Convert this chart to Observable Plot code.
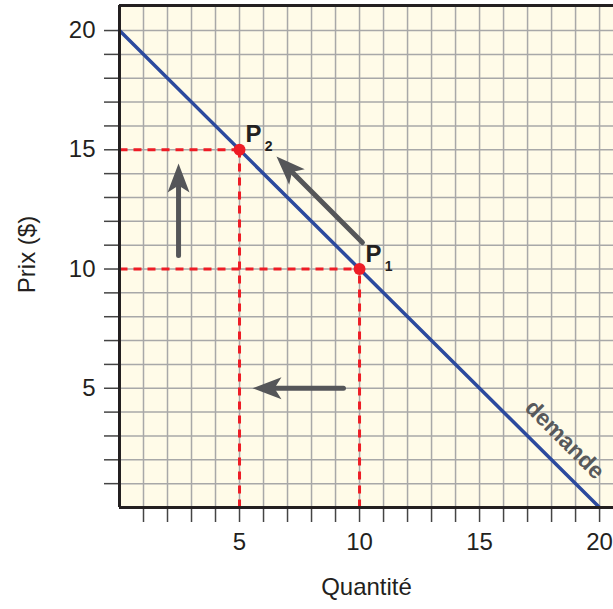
<!DOCTYPE html>
<html>
<head>
<meta charset="utf-8">
<script src="https://cdn.jsdelivr.net/npm/d3@7"></script>
<script src="https://cdn.jsdelivr.net/npm/@observablehq/plot@0.6"></script>
<style>
  html, body { margin: 0; padding: 0; background: #ffffff; }
  #chart { width: 613px; height: 609px; }
</style>
</head>
<body>
<div id="chart"></div>
<script>
// ---- data ----
const demand = [{q: 0, p: 20}, {q: 20, p: 0}];
const points = [
  {name: "P", sub: "2", q: 5, p: 15},
  {name: "P", sub: "1", q: 10, p: 10}
];
const arrows = [
  {x1: 2.46, y1: 10.57, x2: 2.46, y2: 14.42},
  {x1: 10.12, y1: 11.11, x2: 6.54, y2: 14.72},
  {x1: 9.33, y1: 5.0, x2: 5.54, y2: 5.0}
];
const gridValues = d3.range(1, 21);
const tickValues = d3.range(1, 21);
const labelledTicks = [5, 10, 15, 20];
const curveLabel = [{text: "demande", q: 18.55, p: 2.85}];

// ---- layout ----
const W = 613, H = 609;
const mL = 119, mR = 0, mT = 5, mB = 102;
const xDomain = [0, 20.58], yDomain = [0, 21.05];
const kx = (W - mL - mR) / (xDomain[1] - xDomain[0]);
const ky = (H - mT - mB) / (yDomain[1] - yDomain[0]);

const dashedH = points.map(d => ({x1: 0, x2: d.q, y: d.p}));
const dashedV = points.map(d => ({x: d.q, y1: 0, y2: d.p}));
const heads = arrows.map(a => {
  const dx = (a.x2 - a.x1) * kx, dy = -(a.y2 - a.y1) * ky;
  return {x: a.x2, y: a.y2, angle: Math.atan2(dx, -dy) * 180 / Math.PI};
});

// stealth arrowhead, tip at origin pointing up
const stealth = {
  draw(ctx) {
    ctx.moveTo(0, 0);
    ctx.lineTo(11, 29);
    ctx.lineTo(0, 22);
    ctx.lineTo(-11, 29);
    ctx.closePath();
  }
};

const font = "'Liberation Sans', Arial, Helvetica, sans-serif";
const fmt = d => labelledTicks.includes(d) ? String(d) : "";

const chart = Plot.plot({
  width: W, height: H,
  marginLeft: mL, marginRight: mR, marginTop: mT, marginBottom: mB,
  x: {domain: xDomain},
  y: {domain: yDomain},
  style: {fontFamily: font, background: "transparent", overflow: "visible"},
  marks: [
    Plot.rect([0], {x1: xDomain[0], x2: xDomain[1], y1: yDomain[0], y2: yDomain[1], fill: "#fffbe8"}),
    Plot.ruleX(gridValues, {stroke: "#a8a8a8", strokeWidth: 1.5}),
    Plot.ruleY(gridValues, {stroke: "#a8a8a8", strokeWidth: 1.5}),
    Plot.axisX(tickValues, {tickSize: 15, tickPadding: 10, tickFormat: fmt, fontSize: 24, fill: "#231f20", stroke: "#444", strokeWidth: 1.5, label: null}),
    Plot.axisY(tickValues, {tickSize: 15, tickPadding: 9, tickFormat: fmt, fontSize: 24, fill: "#231f20", stroke: "#444", strokeWidth: 1.5, label: null}),
    Plot.text(["Quantité"], {frameAnchor: "bottom", dy: 87, fontSize: 24, fill: "#231f20"}),
    Plot.text(["Prix ($)"], {frameAnchor: "left", textAnchor: "middle", dx: -92, dy: -2, rotate: -90, fontSize: 24, fill: "#231f20"}),
    Plot.link(dashedH, {x1: "x1", x2: "x2", y1: "y", y2: "y", stroke: "#ee1c25", strokeWidth: 3, strokeDasharray: "8,6"}),
    Plot.link(dashedV, {x1: "x", x2: "x", y1: "y1", y2: "y2", stroke: "#ee1c25", strokeWidth: 3, strokeDasharray: "8,6"}),
    Plot.line(demand, {x: "q", y: "p", stroke: "#2c4a9e", strokeWidth: 3.5}),
    Plot.arrow(arrows, {x1: "x1", y1: "y1", x2: "x2", y2: "y2", headLength: 0, insetEnd: 16, stroke: "#555659", strokeWidth: 5}),
    Plot.dot(heads, {x: "x", y: "y", rotate: "angle", symbol: stealth, fill: "#555659", stroke: "none"}),
    Plot.dot(points, {x: "q", y: "p", r: 6, fill: "#ee1c25"}),
    Plot.text(points, {x: "q", y: "p", text: "name", dx: 14, dy: -15, fontSize: 24, fontWeight: "bold", fill: "#231f20"}),
    Plot.text(points, {x: "q", y: "p", text: "sub", dx: 29, dy: -3, fontSize: 14, fontWeight: "bold", fill: "#231f20"}),
    Plot.text(curveLabel, {x: "q", y: "p", text: "text", rotate: 45, fontSize: 23, fontWeight: "bold", fill: "#58595b"}),
    Plot.ruleX([0], {stroke: "#231f20", strokeWidth: 3}),
    Plot.ruleY([yDomain[0], yDomain[1]], {stroke: "#231f20", strokeWidth: 3})
  ]
});
document.getElementById("chart").appendChild(chart);
</script>
</body>
</html>
